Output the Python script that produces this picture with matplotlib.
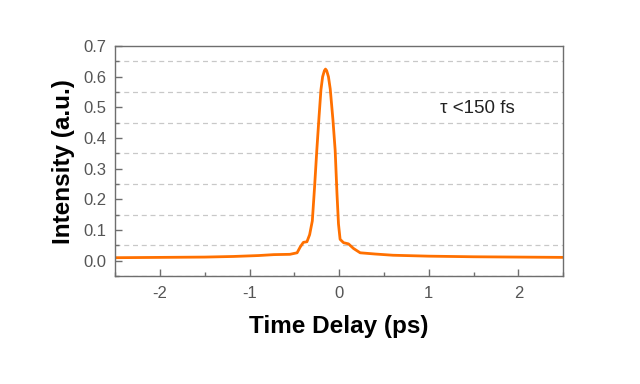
import matplotlib
matplotlib.use("Agg")
import matplotlib.pyplot as plt
from matplotlib.ticker import MultipleLocator, FormatStrFormatter

# autocorrelation trace
delay = [-2.5, -2.0, -1.5, -1.18, -0.9, -0.73, -0.55, -0.47, -0.435, -0.40, -0.36,
         -0.33, -0.30, -0.275, -0.25, -0.225, -0.204, -0.185, -0.165, -0.153,
         -0.14, -0.12, -0.10, -0.07, -0.045, -0.025, -0.008, 0.01, 0.048,
         0.104, 0.16, 0.234, 0.4, 0.6, 1.0, 1.5, 2.0, 2.5]
intensity = [0.010, 0.011, 0.012, 0.014, 0.017, 0.020, 0.021, 0.026, 0.045, 0.060,
             0.062, 0.085, 0.13, 0.24, 0.36, 0.47, 0.557, 0.60, 0.62, 0.625,
             0.62, 0.60, 0.56, 0.46, 0.36, 0.22, 0.12, 0.070, 0.059,
             0.055, 0.040, 0.026, 0.022, 0.018, 0.015, 0.013, 0.012, 0.011]

x_ticks = [-2, -1, 0, 1, 2]
annotation = "τ <150 fs"

plt.rcParams['font.family'] = ['Liberation Sans', 'DejaVu Sans']
plt.rcParams['axes.unicode_minus'] = False

fig = plt.figure(figsize=(6.4, 3.84), dpi=100)
ax = fig.add_axes([0.18, 0.281, 0.70, 0.599])

ax.plot(delay, intensity, color="#ff7000", lw=2.0, solid_joinstyle="round")

ax.set_xlim(-2.5, 2.5)
ax.set_ylim(-0.05, 0.7)
ax.set_xticks(x_ticks)
ax.xaxis.set_minor_locator(MultipleLocator(0.5))
ax.yaxis.set_major_locator(MultipleLocator(0.1))
ax.yaxis.set_minor_locator(MultipleLocator(0.05))
ax.yaxis.set_major_formatter(FormatStrFormatter("%.1f"))

ax.grid(axis="y", which="minor", color="#c8c8c8", ls=(0, (4, 3)), lw=0.9)
ax.set_axisbelow(True)

for s in ax.spines.values():
    s.set_color("#6e6e6e")
    s.set_linewidth(1.0)
ax.tick_params(which="both", direction="in", colors="#6e6e6e", labelcolor="#555555",
               labelsize=12, width=1.0)
ax.tick_params(which="major", length=5)
ax.tick_params(which="minor", length=3)
ax.tick_params(axis="x", pad=7)
ax.tick_params(axis="y", pad=6)

ax.set_xlabel("Time Delay (ps)", fontsize=17.5, fontweight="bold", labelpad=10)
ax.set_ylabel("Intensity (a.u.)", fontsize=17.5, fontweight="bold", labelpad=6)

ax.text(1.13, 0.495, annotation, fontsize=13.5, color="#222222", va="center", ha="left")

fig.savefig("out.png", dpi=100)
